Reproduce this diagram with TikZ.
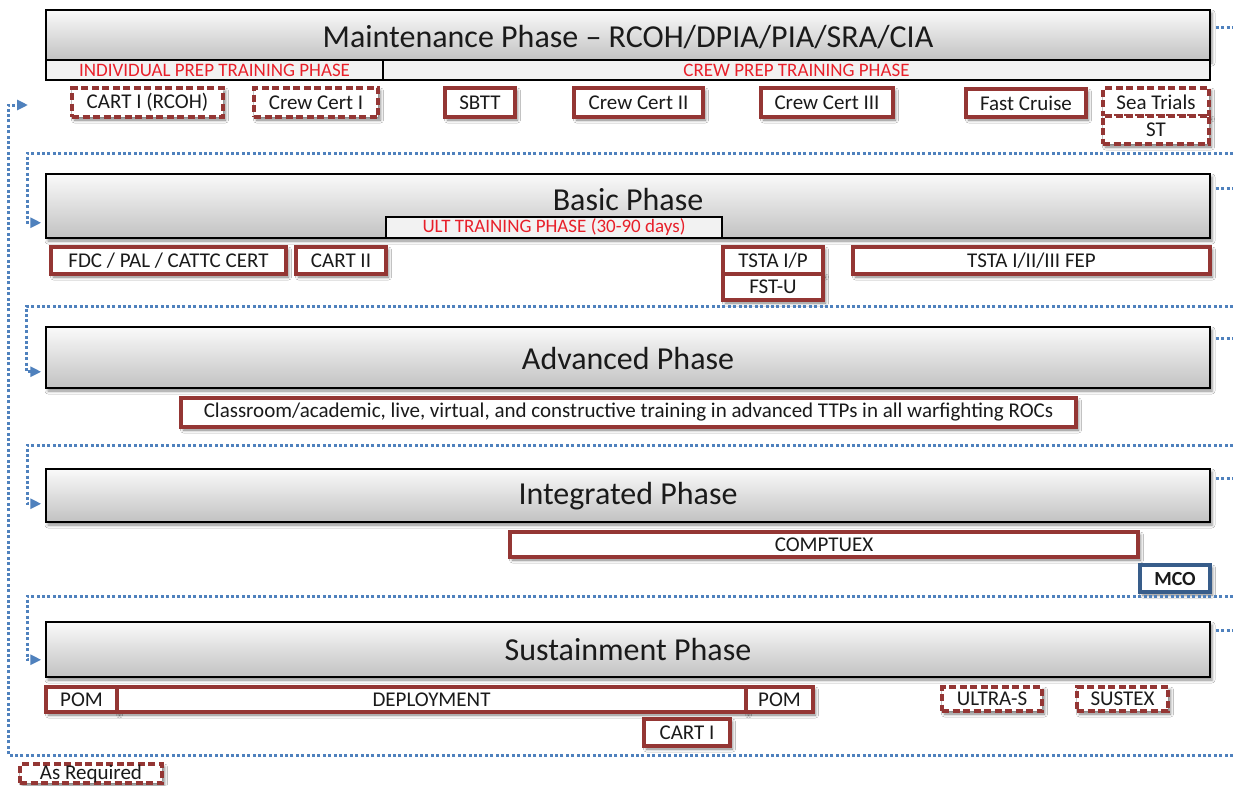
\documentclass[tikz,border=0pt]{standalone}
\usepackage{fontspec}
\setmainfont{Carlito}
\usetikzlibrary{arrows.meta,shadows,shadows.blur}
\definecolor{boxred}{HTML}{943634}
\definecolor{loopblue}{HTML}{4F81BD}
\definecolor{barred}{HTML}{E8202A}
\definecolor{mcoblue}{HTML}{385D8A}
\definecolor{ink}{HTML}{1A1A1A}
\tikzset{
  phase/.style={draw=black, line width=1.5pt, top color=gray!4, bottom color=gray!48,
    inner sep=0pt, blur shadow={shadow xshift=2pt, shadow yshift=-3pt, shadow opacity=45,
    shadow blur radius=3pt}},
  phasetitle/.style={font=\fontsize{32}{34}\selectfont, text=ink, inner sep=0pt},
  bar/.style={draw=black, line width=2pt, fill=gray!10, inner sep=0pt, text=barred,
    font=\fontsize{19}{20}\selectfont},
  task/.style={draw=boxred, line width=3.4pt, fill=white, inner sep=0pt, text=ink,
    font=\fontsize{21}{22}\selectfont,
    blur shadow={shadow xshift=2.5pt, shadow yshift=-3pt, shadow opacity=50,
    shadow blur radius=3pt}},
  optional/.style={task, dash pattern=on 7pt off 3.5pt},
  mcobox/.style={task, draw=mcoblue, font=\bfseries\fontsize{20}{21}\selectfont},
  loop/.style={draw=loopblue, line width=3pt, dash pattern=on 3pt off 2.4pt},
  looparrow/.style={loop, -{Triangle[length=11pt,width=10pt]}, shorten >=4pt},
}
% box from (x1,y1) to (x2,y2) in picture pixels: \bx{style}{name}{x1}{y1}{x2}{y2}{text}
\newcommand\bx[7]{%
  \node[#1, minimum width={(#5-#3)*1pt}, minimum height={(#6-#4)*1pt}, anchor=center]
    (#2) at ({(#3+#5)/2},{(#4+#6)/2}) {#7};}
\begin{document}
\begin{tikzpicture}[x=1pt,y=-1pt]
\fill[white] (0,0) rectangle (1233,785);
\useasboundingbox (0,0) rectangle (1233,785);

% ---- Maintenance phase ----
\bx{phase}{maint}{46}{10}{1210}{60}{}
\node[phasetitle] (maint-t) at (628,37) {Maintenance Phase – RCOH/DPIA/PIA/SRA/CIA};
\bx{bar}{indiv}{46}{60}{383}{80}{INDIVIDUAL PREP TRAINING PHASE}
\bx{bar}{crewprep}{383}{60}{1210}{80}{CREW PREP TRAINING PHASE}

\bx{optional}{cart1r}{72}{88}{223}{117}{CART I (RCOH)}
\bx{optional}{cc1}{254}{88}{378}{117}{Crew Cert I}
\bx{task}{sbtt}{445}{88}{515}{117}{SBTT}
\bx{task}{cc2}{574}{88}{703}{117}{Crew Cert II}
\bx{task}{cc3}{761}{88}{893}{117}{Crew Cert III}
\bx{task}{fast}{966}{89}{1086}{117}{Fast Cruise}
\bx{optional}{sea}{1103}{88}{1209}{116}{Sea Trials}
\bx{optional}{st}{1103}{116}{1209}{144}{ST}

% ---- Basic phase ----
\bx{phase}{basic}{46}{174}{1210}{238}{}
\node[phasetitle] (basic-t) at (628,200) {Basic Phase};
\bx{bar}{ult}{386}{217}{722}{238}{ULT TRAINING PHASE (30-90 days)}

\bx{task}{fdc}{51}{247}{286}{274}{FDC / PAL / CATTC CERT}
\bx{task}{cart2}{296}{247}{386}{274}{CART II}
\bx{task}{tstaip}{723}{247}{823}{274}{TSTA I/P}
\bx{task}{fstu}{723}{274}{823}{300}{FST-U}
\bx{task}{fep}{853}{247}{1210}{274}{TSTA I/II/III FEP}

% ---- Advanced phase ----
\bx{phase}{adv}{46}{327}{1210}{388}{}
\node[phasetitle] (adv-t) at (628,358) {Advanced Phase};
\bx{task}{class}{181}{398}{1076}{427}{Classroom/academic, live, virtual, and constructive training in advanced TTPs in all warfighting ROCs}

% ---- Integrated phase ----
\bx{phase}{integ}{46}{469}{1210}{522}{}
\node[phasetitle] (integ-t) at (628,496) {Integrated Phase};
\bx{task}{comptuex}{510}{532}{1138}{557}{COMPTUEX}
\bx{mcobox}{mco}{1140}{565}{1210}{592}{MCO}

% ---- Sustainment phase ----
\bx{phase}{sust}{46}{622}{1210}{677}{}
\node[phasetitle] (sust-t) at (628,649) {Sustainment Phase};
\bx{task}{pom1}{46}{687}{117}{712}{POM}
\bx{task}{deploy}{117}{687}{746}{712}{DEPLOYMENT}
\bx{task}{pom2}{746}{687}{813}{712}{POM}
\bx{task}{cart1}{644}{719}{730}{746}{CART I}
\bx{optional}{ultras}{942}{687}{1042}{711}{ULTRA-S}
\bx{optional}{sustex}{1077}{687}{1168}{711}{SUSTEX}

% ---- legend ----
\bx{optional}{asreq}{20}{764}{162}{783}{As Required}

% ---- flow between phases ----
\coordinate (out0) at (1233,27);
\coordinate (out1) at (1233,188);
\coordinate (out2) at (1233,338);
\coordinate (out3) at (1233,478);
\coordinate (out4) at (1233,630);
\draw[loop, shorten <=5pt] (maint.east |- out0) -- (out0);
\draw[loop, shorten <=5pt] (basic.east |- out1) -- (out1);
\draw[loop, shorten <=5pt] (adv.east |- out2) -- (out2);
\draw[loop, shorten <=5pt] (integ.east |- out3) -- (out3);
\draw[loop, shorten <=5pt] (sust.east |- out4) -- (out4);

\coordinate (in1) at (1233,153);
\coordinate (in2) at (1233,306);
\coordinate (in3) at (1233,445);
\coordinate (in4) at (1233,596);
\draw[looparrow] (in1) -- (27,153) |- ([yshift=16pt]basic.south west);
\draw[looparrow] (in2) -- (26,306) |- ([yshift=17pt]adv.south west);
\draw[looparrow] (in3) -- (27,445) |- ([yshift=19pt]integ.south west);
\draw[looparrow] (in4) -- (27,596) |- ([yshift=18pt]sust.south west);

% return path back to the maintenance phase
\coordinate (ret) at (1233,755);
\coordinate (retend) at (28,105);
\draw[looparrow, shorten >=0pt] (ret) -- (8,755) |- (retend);
\end{tikzpicture}
\end{document}
